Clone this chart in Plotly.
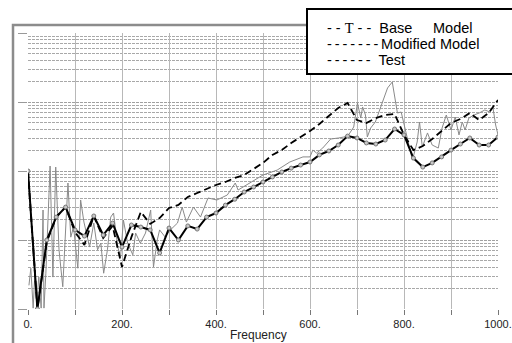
import plotly.graph_objects as go

# ---- data ----
model_freq = [0, 20, 40, 60, 80, 100, 120, 140, 160, 180, 200, 220, 240, 260, 280, 300,
              320, 340, 360, 380, 400, 420, 440, 460, 480, 500, 520, 540, 560, 580, 600,
              620, 640, 660, 680, 700, 720, 740, 760, 780, 800, 820, 840, 860, 880, 900,
              920, 940, 960, 980, 1000]

base_model = [100, 1.0, 9.4, 21.5, 30, 13, 8.5, 22.3, 10.7, 16, 4.06, 11, 25.5, 17.1, 20.8, 29.1,
              32.2, 42, 48, 54.8, 62.7, 69.3, 79.2, 87.5, 107, 131, 171, 201, 255, 311, 380,
              480, 627, 819, 968, 548, 496, 586, 648, 670, 333, 201, 230, 291, 380, 496,
              567, 693, 548, 693, 1069]

modified_model = [100, 1.0, 10, 21.5, 30, 14, 11.4, 22.3, 11.8, 17.6, 7.9, 16.5, 15.4, 14, 6.5, 14.9,
                  10, 16, 14.4, 21.5, 24.6, 32, 39, 49.6, 58.6, 69.3, 81.9, 96.8, 110, 122, 135,
                  171, 195, 238, 321, 301, 255, 246, 281, 406, 333, 154, 114, 131, 160, 201,
                  246, 301, 238, 238, 311]

test_freq = [2, 6, 11, 15, 19, 23, 28, 32, 34, 38, 47, 53, 59, 66, 74, 81, 85, 91, 97, 106,
             112, 119, 125, 131, 140, 148, 155, 161, 169, 176, 182, 191, 197, 203, 212, 223,
             229, 239, 250, 261, 267, 275, 280, 292, 303, 318, 328, 337, 352, 367, 383, 402,
             424, 441, 447, 472, 500, 530, 557, 585, 600, 606, 614, 627, 644, 661, 672, 682,
             693, 701, 708, 712, 718, 722, 729, 739, 750, 756, 765, 775, 786, 794, 805, 818,
             828, 833, 839, 850, 860, 873, 881, 890, 900, 909, 917, 924, 930, 938, 949, 960,
             972, 983, 989, 995, 1000]
test_vals = [2.2, 3.9, 1.03, 3.67, 1.35, 2.9, 1.03, 27.2, 1.03, 3.3, 118, 2.9, 114, 7.2, 2.1, 21.5, 67, 11, 15.4, 3.9,
             38, 18.2, 12.6, 7.9, 17.6, 7.2, 9.0, 3.3, 7.2, 21.5, 24.6, 7.9, 5.7, 19.5, 9.0, 6.1,
             12.6, 9.0, 12.6, 27.2, 4.06, 10, 14, 11, 14, 17.6, 30, 18.2, 30, 21.5, 40.6, 38,
             44.9, 67, 53, 67, 87.5, 103, 135, 160, 160, 201, 182, 215, 291, 301, 311, 333,
             434, 968, 586, 847, 648, 311, 420, 513, 819, 1069, 1596, 1950, 693, 716, 356, 144,
             263, 513, 223, 356, 238, 215, 420, 648, 393, 606, 333, 513, 393, 586, 648, 693,
             766, 716, 847, 464, 333]

x_tickvals = [0, 100, 200, 300, 400, 500, 600, 700, 800, 900, 1000]
x_ticktext = ["0.", "", "200.", "", "400.", "", "600.", "", "800.", "", "1000."]
y_major = [1, 10, 100, 1000, 10000]
y_minor = [m * d for d in [1, 10, 100, 1000] for m in range(2, 10)]

W, H = 512, 343
L, R, T, B = 28, 14, 33, 34
pw, ph = W - L - R, H - T - B


def px(x):
    return (x - L) / pw


def py(y):
    return (H - B - y) / ph


fig = go.Figure()
fig.add_trace(go.Scatter(x=test_freq, y=test_vals, mode="lines", name="Test",
                         line=dict(color="#8a8a8a", width=1)))
fig.add_trace(go.Scatter(x=model_freq, y=base_model, mode="lines", name="Base Model",
                         line=dict(color="black", width=1.8, dash="7px,4px")))
fig.add_trace(go.Scatter(x=model_freq, y=modified_model, mode="lines+markers", name="Modified Model",
                         line=dict(color="black", width=2),
                         marker=dict(symbol="circle", size=4, color="#c8c8c8",
                                     line=dict(color="#777777", width=1))))

fig.update_layout(
    xaxis=dict(range=[0, 1000], tickmode="array", tickvals=x_tickvals, ticktext=x_ticktext,
               showgrid=True, gridcolor="#b8b8b8", gridwidth=1, automargin=False,
               zeroline=False, showline=False, ticklabeloverflow="allow",
               ticks="outside", ticklen=5, tickcolor="#777777",
               tickfont=dict(family="Liberation Sans, Arial", size=11, color="#222222")),
    yaxis=dict(type="log", range=[0, 4], tickmode="array", tickvals=y_major, showticklabels=False,
               showgrid=True, gridcolor="#a0a0a0", griddash="3px,1px", gridwidth=1, automargin=False,
               zeroline=False, showline=False,
               ticks="outside", ticklen=9, tickcolor="#999999",
               minor=dict(tickvals=y_minor, showgrid=True, ticks="",
                          gridcolor="#a8a8a8", griddash="3px,1px", gridwidth=1)),
)

shapes = [
    # grey outer frame (top and left)
    dict(type="rect", xref="paper", yref="paper", x0=px(13), x1=1.3, y0=-0.3, y1=py(25),
         line=dict(color="#8c8c8c", width=2.5), layer="above"),
    # legend box
    dict(type="rect", xref="paper", yref="paper", x0=px(307), x1=1.1, y0=py(74), y1=py(9),
         line=dict(color="black", width=2), fillcolor="white", layer="above"),
]

lf = dict(family="Liberation Sans, Arial", size=14.5, color="black")
ann = []


def txt(x, y, s):
    ann.append(dict(x=px(x), y=py(y), xref="paper", yref="paper", text=s, showarrow=False,
                    xanchor="left", yanchor="middle", font=lf))


ts = "&#8201;"
txt(325, 28, "- - <span style='font-family:Liberation Serif'>T</span> - -&nbsp;&nbsp;Base")
txt(431, 28, "Model")
txt(325, 44, ts.join(["-"] * 7) + "&#8201;Modified Model")
txt(325, 60, ts.join(["-"] * 6) + "&nbsp;&nbsp;Test")
ann.append(dict(x=px(258), y=py(335), xref="paper", yref="paper", text="Frequency",
                showarrow=False, xanchor="center", yanchor="middle",
                font=dict(family="Liberation Sans, Arial", size=12, color="#222222")))

fig.update_layout(width=W, height=H, margin=dict(l=L, r=R, t=T, b=B, autoexpand=False),
                  paper_bgcolor="white", plot_bgcolor="white", showlegend=False,
                  shapes=shapes, annotations=ann)

fig.write_html("out.html")
